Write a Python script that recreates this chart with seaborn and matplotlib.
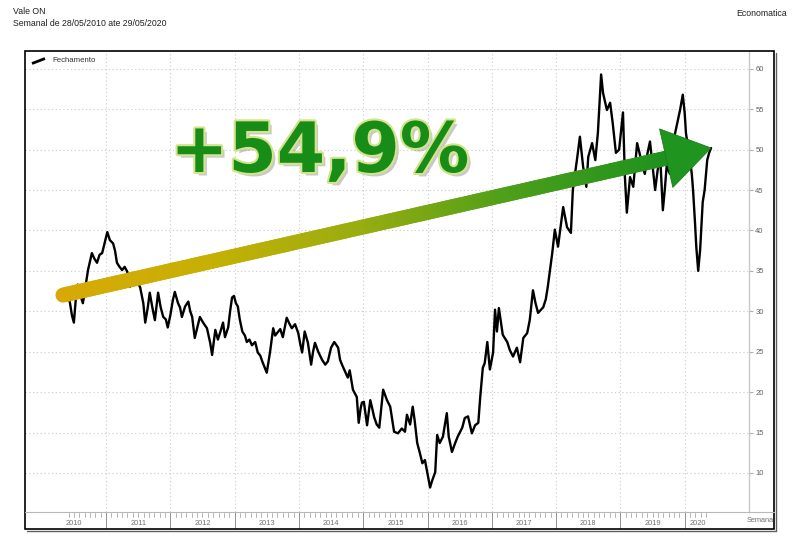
import numpy as np
import pandas as pd
import matplotlib
matplotlib.use("Agg")
import matplotlib.pyplot as plt
import seaborn as sns
from matplotlib.collections import LineCollection
from matplotlib.patches import Polygon, Rectangle
from matplotlib.lines import Line2D
import matplotlib.transforms as mtransforms
import matplotlib.patheffects as pe
from matplotlib.colors import LinearSegmentedColormap

# ---------------- data ----------------
t = [2010.41, 2010.44, 2010.47, 2010.50, 2010.53, 2010.56, 2010.60, 2010.64, 2010.67, 2010.72,
     2010.78, 2010.82, 2010.86, 2010.90, 2010.94, 2010.98, 2011.02, 2011.06, 2011.11, 2011.14,
     2011.17, 2011.21, 2011.25, 2011.29, 2011.33, 2011.37, 2011.41, 2011.45, 2011.49, 2011.53,
     2011.58, 2011.61, 2011.65, 2011.68, 2011.72, 2011.76, 2011.81, 2011.85, 2011.89, 2011.93,
     2011.96, 2012.00, 2012.04, 2012.07, 2012.12, 2012.15, 2012.18, 2012.23, 2012.28, 2012.31,
     2012.34, 2012.38, 2012.42, 2012.46, 2012.51, 2012.57, 2012.62, 2012.65, 2012.70, 2012.74,
     2012.78, 2012.82, 2012.85, 2012.90, 2012.93, 2012.96, 2012.99, 2013.02, 2013.05, 2013.08,
     2013.12, 2013.16, 2013.19, 2013.23, 2013.27, 2013.32, 2013.36, 2013.40, 2013.43, 2013.47,
     2013.50, 2013.55, 2013.60, 2013.63, 2013.66, 2013.71, 2013.75, 2013.81, 2013.85, 2013.89,
     2013.94, 2013.99, 2014.02, 2014.05, 2014.09, 2014.14, 2014.19, 2014.22, 2014.25, 2014.30,
     2014.36, 2014.41, 2014.45, 2014.50, 2014.55, 2014.61, 2014.64, 2014.67, 2014.72, 2014.76,
     2014.79, 2014.84, 2014.90, 2014.93, 2014.96, 2014.98, 2015.01, 2015.06, 2015.11, 2015.14,
     2015.17, 2015.21, 2015.25, 2015.31, 2015.37, 2015.42, 2015.48, 2015.54, 2015.60, 2015.65,
     2015.68, 2015.73, 2015.77, 2015.80, 2015.84, 2015.88, 2015.92, 2015.96, 2016.01, 2016.04,
     2016.07, 2016.12, 2016.15, 2016.19, 2016.24, 2016.30, 2016.33, 2016.38, 2016.43, 2016.47,
     2016.54, 2016.58, 2016.63, 2016.69, 2016.74, 2016.79, 2016.82, 2016.86, 2016.89, 2016.93,
     2016.97, 2017.02, 2017.05, 2017.08, 2017.11, 2017.17, 2017.24, 2017.28, 2017.33, 2017.39,
     2017.44, 2017.49, 2017.55, 2017.59, 2017.64, 2017.68, 2017.72, 2017.80, 2017.84, 2017.87,
     2017.94, 2017.98, 2018.03, 2018.07, 2018.11, 2018.17, 2018.23, 2018.26, 2018.33, 2018.37,
     2018.42, 2018.47, 2018.50, 2018.56, 2018.61, 2018.65, 2018.70, 2018.73, 2018.79, 2018.84,
     2018.88, 2018.93, 2018.98, 2019.04, 2019.07, 2019.10, 2019.15, 2019.20, 2019.26, 2019.30,
     2019.34, 2019.38, 2019.42, 2019.46, 2019.50, 2019.54, 2019.58, 2019.62, 2019.66, 2019.69,
     2019.72, 2019.77, 2019.81, 2019.85, 2019.89, 2019.93, 2019.97, 2020.00, 2020.02, 2020.05,
     2020.08, 2020.11, 2020.13, 2020.16, 2020.18, 2020.21, 2020.24, 2020.28, 2020.31, 2020.35,
     2020.38, 2020.41]
close = [32.0, 31.0, 29.5, 28.6, 31.5, 33.3, 32.0, 31.0, 32.5, 35.1,
         37.2, 36.5, 36.0, 37.0, 37.2, 38.5, 39.8, 38.8, 38.4, 37.5,
         36.0, 35.5, 35.1, 35.5, 34.9, 33.0, 33.5, 34.3, 33.5, 33.0,
         31.0, 28.6, 30.5, 32.3, 30.5, 28.9, 32.3, 30.5, 29.3, 29.0,
         28.0, 29.5, 31.4, 32.4, 31.0, 30.5, 29.3, 30.6, 31.2, 30.0,
         29.3, 26.7, 28.0, 29.3, 28.6, 27.9, 26.1, 24.6, 27.7, 26.5,
         27.5, 28.6, 26.8, 28.0, 30.0, 31.7, 31.9, 31.0, 30.6, 29.0,
         27.5, 27.0, 26.2, 26.5, 25.8, 26.2, 24.9, 24.5, 23.8, 23.0,
         22.4, 24.9, 27.9, 27.0, 27.3, 27.8, 26.8, 29.2, 28.5, 27.9,
         28.4, 27.3, 26.0, 24.9, 27.5, 26.1, 23.4, 25.0, 26.1, 25.0,
         24.0, 23.4, 23.8, 25.5, 26.2, 25.5, 24.0, 23.4, 22.5, 21.8,
         22.7, 20.3, 19.4, 16.2, 18.0, 18.7, 18.8, 15.9, 19.0, 18.0,
         16.9, 16.0, 15.6, 20.3, 19.0, 18.2, 15.1, 14.9, 15.5, 15.1,
         17.2, 16.0, 18.2, 16.5, 13.7, 12.5, 11.2, 11.6, 9.5, 8.2,
         9.0, 10.1, 14.7, 13.7, 14.5, 17.4, 14.5, 12.6, 13.7, 14.5,
         15.6, 16.8, 17.0, 14.9, 15.9, 16.2, 19.4, 23.0, 23.6, 26.2,
         22.8, 24.9, 30.2, 27.5, 30.4, 27.1, 26.2, 25.2, 24.4, 25.5,
         23.7, 26.7, 27.3, 28.9, 32.6, 31.0, 29.8, 30.5, 31.5, 33.0,
         37.2, 40.1, 38.0, 40.5, 42.9, 40.4, 39.7, 45.0, 49.1, 51.6,
         47.9, 45.4, 49.1, 50.8, 48.7, 52.1, 59.3, 57.0, 54.9, 55.8,
         53.3, 49.6, 50.0, 54.6, 46.6, 42.2, 46.6, 45.4, 50.8, 49.5,
         48.0, 47.0, 49.5, 51.0, 48.0, 45.0, 47.5, 49.0, 42.5, 45.0,
         48.0, 47.0, 50.0, 52.0, 53.5, 55.0, 56.8, 54.5, 52.0, 50.5,
         49.0, 47.0, 45.0, 41.0, 38.0, 35.0, 37.6, 43.5, 45.0, 48.7,
         49.6, 50.2]
years = list(range(2010, 2021))
y_ticks = [10, 15, 20, 25, 30, 35, 40, 45, 50, 55, 60]
title = "Vale ON"
subtitle = "Semanal de 28/05/2010 ate 29/05/2020"
source = "Economatica"
series_name = "Fechamento"
x_name = "Semana"
gain_label = "+54,9%"

# ---------------- figure ----------------
sns.set_theme(style="white")
plt.rcParams["font.family"] = ["Liberation Sans", "DejaVu Sans"]

W, H = 800, 539
fig = plt.figure(figsize=(W / 100, H / 100), dpi=100)
fig.patch.set_facecolor("white")


def fx(px):
    return px / W


def fy(py):
    return 1 - py / H


ax = fig.add_axes([fx(25), fy(512), (749 - 25) / W, (512 - 51) / H])
df = pd.DataFrame({"t": t, "close": close})
sns.lineplot(data=df, x="t", y="close", ax=ax, color="black", linewidth=1.7,
             legend=False, zorder=3)
XMIN, XMAX = 2009.74, 2021.0
ax.set_xlim(XMIN, XMAX)
ax.set_ylim(5.17, 62.2)
ax.set_xlabel("")
ax.set_ylabel("")
for s in ["top", "left", "bottom"]:
    ax.spines[s].set_visible(False)
ax.spines["right"].set_color("#c8c8c8")
ax.spines["right"].set_linewidth(1.0)
ax.yaxis.tick_right()
ax.set_yticks(y_ticks)
ax.tick_params(axis="y", direction="out", length=3, width=0.8, color="#b0b0b0",
               labelsize=5.5, labelcolor="#606060", pad=1.5)
ax.set_xticks(years[1:])
ax.tick_params(axis="x", length=0, labelbottom=False)
ax.grid(True, color="#d2d2d2", linestyle=(0, (1.2, 2.2)), linewidth=0.8)
ax.set_facecolor("white")

# bottom time band
bx = fig.add_axes([fx(25), fy(529), (749 - 25) / W, 17 / H])
bx.set_xlim(XMIN, XMAX)
bx.set_ylim(0, 1)
bx.axis("off")
for yr in years[1:]:
    bx.plot([yr, yr], [0.05, 1.0], color="#909090", lw=0.7)
for yr in years:
    for k in range(1, 12):
        m = yr + k / 12
        if t[0] <= m <= t[-1]:
            bx.plot([m, m], [0.7, 0.95], color="#a8a8a8", lw=0.6)
    pos = min(yr + 0.5, (yr + t[-1]) / 2)
    bx.text(pos, 0.35, str(yr), ha="center", va="center", fontsize=5.3, color="#707070")

fig.add_artist(Line2D([fx(25), fx(774)], [fy(512), fy(512)], color="#b8b8b8", lw=0.8))
fig.text(fx(760), fy(521), x_name, ha="center", va="center", fontsize=5.3, color="#707070")

# frame with slight shadow
fig.add_artist(Line2D([fx(775.5), fx(775.5)], [fy(53), fy(530.5)], color="#606060", lw=1.0))
fig.add_artist(Line2D([fx(27), fx(775.5)], [fy(530.5), fy(530.5)], color="#606060", lw=1.0))
fig.add_artist(Rectangle((fx(25), fy(529)), (774 - 25) / W, (529 - 51) / H, fill=False,
                         ec="black", lw=1.2, transform=fig.transFigure))

# titles
fig.text(fx(13), fy(12), title, fontsize=6.3, va="center", ha="left", color="#202020")
fig.text(fx(13), fy(24), subtitle, fontsize=6.3, va="center", ha="left", color="#202020")
fig.text(fx(787), fy(13), source, fontsize=6.3, va="center", ha="right", color="#202020")

# legend
fig.add_artist(Line2D([fx(32), fx(45)], [fy(63.5), fy(58.5)], color="black", lw=2.0,
                      solid_capstyle="butt"))
fig.text(fx(52), fy(61), series_name, fontsize=5.6, va="center", ha="left", color="#303030")

# ---------------- gradient arrow ----------------
ident = mtransforms.IdentityTransform()
p0 = ax.transData.transform((t[0] - 0.08, close[0]))
p1 = ax.transData.transform((t[-1], close[-1]))
d = p1 - p0
u = d / np.hypot(*d)
nrm = np.array([-u[1], u[0]])
head_len, head_w = 46, 30
base = p1 - u * head_len
N = 160
pts = p0 + np.outer(np.linspace(0, 1, N + 1), (base + u * 6 - p0))
segs = np.stack([pts[:-1], pts[1:]], axis=1)
cmap = LinearSegmentedColormap.from_list(
    "arr", ["#d8a906", "#c6b004", "#98ad10", "#4c9e1a", "#1e921e"])
lc = LineCollection(segs, colors=cmap(np.linspace(0, 1, N)), linewidths=10.8,
                    capstyle="round", transform=ident, zorder=5)
fig.add_artist(lc)
head = Polygon([p1, base + nrm * head_w, base - nrm * head_w], closed=True,
               fc="#1f9520", ec="#187f1a", lw=0.6, transform=ident, zorder=6)
fig.add_artist(head)

# big label
fig.text(0.40, fy(172), gain_label, fontsize=50, fontweight="bold", family="DejaVu Sans",
         color="#178c17", ha="center", va="baseline", zorder=7,
         path_effects=[pe.SimplePatchShadow(offset=(2.5, -2.5), shadow_rgbFace="#666666", alpha=0.35),
                       pe.Stroke(linewidth=3, foreground="#d3e48a"),
                       pe.Normal()])

fig.savefig("out.png", dpi=100, facecolor="white")
